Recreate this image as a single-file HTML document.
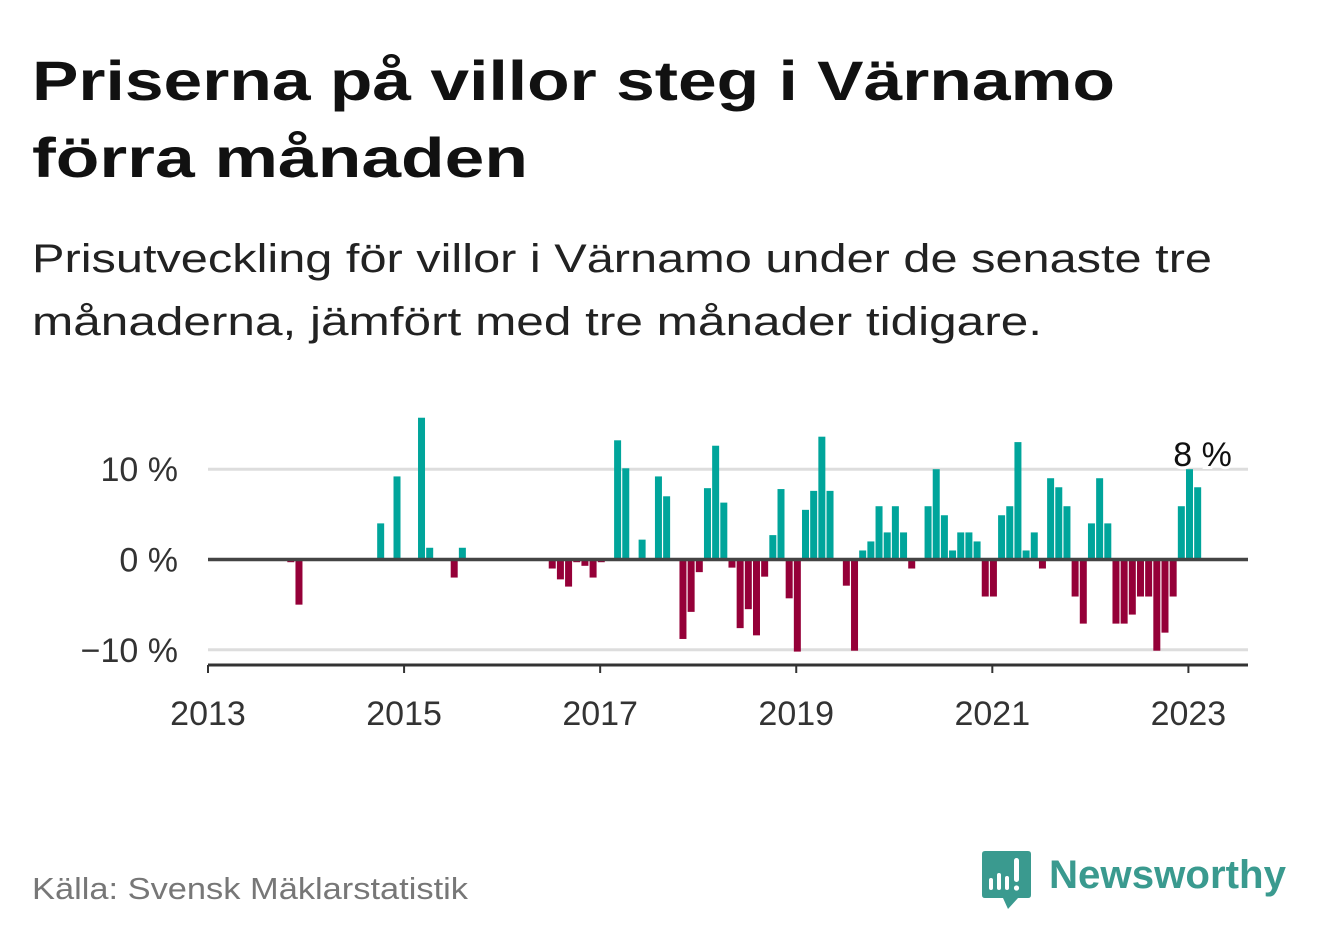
<!DOCTYPE html>
<html><head><meta charset="utf-8"><style>
html,body{margin:0;padding:0;background:#fff;}
svg{display:block;font-family:"Liberation Sans",sans-serif;}
</style></head><body>
<svg width="1322" height="939" viewBox="0 0 1322 939">
<text x="32" y="100" font-size="56" font-weight="bold" fill="#111" textLength="1083" lengthAdjust="spacingAndGlyphs">Priserna på villor steg i Värnamo</text>
<text x="32" y="177" font-size="56" font-weight="bold" fill="#111" textLength="496" lengthAdjust="spacingAndGlyphs">förra månaden</text>
<text x="32" y="272" font-size="40" fill="#222" textLength="1180" lengthAdjust="spacingAndGlyphs">Prisutveckling för villor i Värnamo under de senaste tre</text>
<text x="32" y="335" font-size="40" fill="#222" textLength="1010" lengthAdjust="spacingAndGlyphs">månaderna, jämfört med tre månader tidigare.</text>
<g id="plot"></g>
<text x="32" y="899" font-size="31" fill="#777" textLength="436" lengthAdjust="spacingAndGlyphs">Källa: Svensk Mäklarstatistik</text>
<g>
<path d="M985 851 H1028 Q1031 851 1031 854 V895 Q1031 898 1028 898 H1018 L1008 909 L1003 898 H985 Q982 898 982 895 V854 Q982 851 985 851 Z" fill="#3a9a8f"/>
<rect x="989" y="878" width="4" height="12" rx="2" fill="#fff"/>
<rect x="997" y="873" width="4" height="17" rx="2" fill="#fff"/>
<rect x="1005" y="876" width="4" height="14" rx="2" fill="#fff"/>
<rect x="1014" y="858" width="5" height="24" rx="2.5" fill="#fff"/>
<circle cx="1016.5" cy="888" r="2.6" fill="#fff"/>
<text x="1049" y="888" font-size="40" font-weight="bold" fill="#3a9a8f" textLength="237" lengthAdjust="spacingAndGlyphs">Newsworthy</text>
</g>
</svg>
<script>
const monthIndex = [10,11,21,23,26,27,30,31,42,43,44,45,46,47,48,50,51,53,55,56,58,59,60,61,62,63,64,65,66,67,68,69,70,71,72,73,74,75,76,78,79,80,81,82,83,84,85,86,88,89,90,91,92,93,94,95,96,97,98,99,100,101,102,103,104,105,106,107,108,109,110,111,112,113,114,115,116,117,118,119,120,121];
const values = [-0.3,-5,4,9.2,15.7,1.3,-2,1.3,-1,-2.2,-3,-0.3,-0.7,-2,-0.3,13.2,10.1,2.2,9.2,7,-8.8,-5.8,-1.4,7.9,12.6,6.3,-0.9,-7.6,-5.5,-8.4,-1.9,2.7,7.8,-4.3,-10.2,5.5,7.6,13.6,7.6,-2.9,-10.1,1,2,5.9,3,5.9,3,-1,5.9,10,4.9,1,3,3,2,-4.1,-4.1,4.9,5.9,13,1,3,-1,9,8,5.9,-4.1,-7.1,4,9,4,-7.1,-7.1,-6.1,-4.1,-4.1,-10.1,-8.1,-4.1,5.9,10,8];
const yTicks = [10,0,-10];
const yTickLabels = ["10 %","0 %","\u221210 %"];
const xTickYears = [2013,2015,2017,2019,2021,2023];
const lastLabel = "8 %";

const NS="http://www.w3.org/2000/svg";
const plot=document.getElementById('plot');
const x0=208,pxPerMonth=8.17,y0=559.5,pxPerPct=9.03,xEnd=1248;
function xs(i){return x0+i*pxPerMonth;}
function ys(v){return y0-v*pxPerPct;}
function mk(t,a){const e=document.createElementNS(NS,t);for(const k in a)e.setAttribute(k,a[k]);plot.appendChild(e);return e;}

yTicks.forEach((t,k)=>{
  if(t!==0){const g=mk('line',{x1:x0,x2:xEnd,y1:ys(t),y2:ys(t),stroke:'#dddddd','stroke-width':3});
  
  }
  const l=mk('text',{x:178,y:ys(t)+12,'font-size':34,fill:'#333','text-anchor':'end'});
  l.textContent=yTickLabels[k];
  
  
});
values.forEach((v,k)=>{
  const xl=xs(monthIndex[k])-2.4;
  const yt=v>=0?ys(v):y0, h=Math.abs(v)*pxPerPct;
  const r=mk('rect',{x:xl,y:yt,width:7,height:h,fill:v>=0?'#00a59b':'#950038'});
  
  
});
const z=mk('line',{x1:x0,x2:xEnd,y1:y0,y2:y0,stroke:'#444','stroke-width':3.5});


const ax=mk('line',{x1:x0,x2:xEnd,y1:665,y2:665,stroke:'#333','stroke-width':3});


xTickYears.forEach(yr=>{
  const x=xs((yr-2013)*12);
  const t=mk('line',{x1:x,x2:x,y1:665,y2:673,stroke:'#333','stroke-width':2});
  
  
  const l=mk('text',{x:x,y:725,'font-size':34,fill:'#333','text-anchor':'middle'});
  l.textContent=yr;
  
  
});
const li=values.length-1;
const lb=mk('text',{x:xs(monthIndex[li])+6,y:ys(Math.max(values[li],values[li-1]))-3,'font-size':34,fill:'#111','text-anchor':'middle',stroke:'#fff','stroke-width':6,'paint-order':'stroke'});
lb.textContent=lastLabel;


</script>
</body></html>
